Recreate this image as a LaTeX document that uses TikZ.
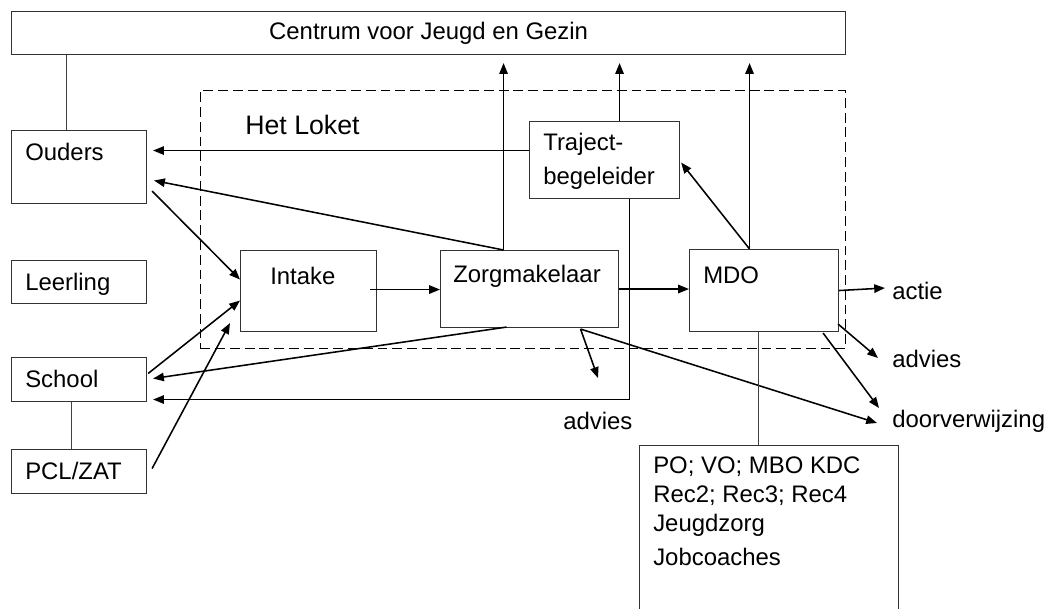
\documentclass[tikz,border=0pt]{standalone}
\usepackage{fontspec}
\setmainfont{Liberation Sans}
\usetikzlibrary{arrows.meta}

\tikzset{
  box/.style={draw=black!80, line width=0.75pt, inner sep=0pt, anchor=north west},
  txt/.style={inner sep=0pt, anchor=north west, align=left},
  arr/.style={-{Triangle[length=0.27cm,width=0.21cm]}, line width=1.1pt},
  lnk/.style={draw=black!75, line width=0.75pt}
}

\begin{document}
\begin{tikzpicture}[x=0.025cm, y=-0.025cm, font=\fontsize{17}{20.5}\selectfont]
\useasboundingbox (0,0) rectangle (1050,609);
% boxes
\node[box, minimum width=20.85cm, minimum height=1.075cm] (cjg) at (11,11) {Centrum voor Jeugd en Gezin};
\node[box, draw=black, line width=0.6pt, dash pattern=on 7pt off 3.5pt,
  minimum width=16.125cm, minimum height=6.45cm] (loket) at (200,90) {};
\node[txt, font=\fontsize{19}{23}\selectfont] (loketname) at ([shift={(45,25)}]loket.north west) {Het Loket};

\node[box, minimum width=3.375cm, minimum height=1.825cm,
  label={[txt, xshift=0.35cm, yshift=-0.325cm]north west:Ouders}] (ouders) at (11,130) {};
\node[box, minimum width=3.375cm, minimum height=1.075cm,
  label={[txt, xshift=0.35cm, yshift=-0.325cm]north west:Leerling}] (leerling) at (11,260) {};
\node[box, minimum width=3.375cm, minimum height=1.1cm,
  label={[txt, xshift=0.35cm, yshift=-0.325cm]north west:School}] (school) at (11,357) {};
\node[box, minimum width=3.375cm, minimum height=1.1cm,
  label={[txt, xshift=0.35cm, yshift=-0.325cm]north west:PCL/ZAT}] (pcl) at (11,449) {};

\node[box, minimum width=3.4cm, minimum height=2.025cm,
  label={[txt, xshift=0.75cm, yshift=-0.425cm]north west:Intake}] (intake) at (240,250) {};
\node[box, minimum width=4.45cm, minimum height=1.925cm,
  label={[txt, xshift=0.325cm, yshift=-0.375cm]north west:Zorgmakelaar}] (zorg) at (440,250) {};
\node[box, minimum width=3.725cm, minimum height=2.05cm,
  label={[txt, xshift=0.35cm, yshift=-0.45cm]north west:MDO}] (mdo) at (689,249) {};
\node[box, minimum width=3.75cm, minimum height=1.925cm,
  label={[txt, xshift=0.35cm, yshift=-0.3cm]north west:{Traject-\\[3.6pt]begeleider}}] (traject) at (529,121) {};
\node[box, minimum width=6.475cm, minimum height=4.5cm,
  label={[txt, xshift=0.35cm, yshift=-0.3cm]north west:{PO; VO; MBO KDC\\Rec2; Rec3; Rec4\\Jeugdzorg\\[3.5pt]Jobcoaches}}] (pool) at (639,445) {};

% uitkomsten
\node[txt, anchor=base west] (actie) at (892,300) {actie};
\node[txt, anchor=base west] (advies) at (892,367) {advies};
\node[txt, anchor=base west] (door) at (892,427) {doorverwijzing};
\node[txt, anchor=base west] (advice) at (563,429) {advies};

% connectors
\draw[lnk] ([shift={(-12.5,0)}]ouders.north) coordinate (o1) -- (o1 |- cjg.south);
\foreach \n/\dx in {zorg/-26, traject/15, mdo/-14.5}
  \draw[arr, shorten >=0.2cm] ([shift={(\dx,0)}]\n.north) coordinate (up\n) -- (up\n |- cjg.south);
\draw[arr, shorten >=0.15cm] ([shift={(0,-9.5)}]traject.west) coordinate (t1) -- (t1 -| ouders.east);
\draw[arr] (upzorg) -- ([shift={(7,13.5)}]ouders.east);
\draw[arr] ([shift={(5,-13)}]ouders.south east) -- ([shift={(0,-11.5)}]intake.west);
\draw[arr] ([shift={(1,-6)}]school.east) -- ([shift={(0,9.5)}]intake.west);
\draw[arr] ([shift={(5,-3)}]pcl.east) -- ([shift={(-10,-9)}]intake.south west);
\draw[arr] ([shift={(-23,-1)}]zorg.south) -- ([shift={(6,-1)}]school.east);
\draw[arr] ([shift={(25,0)}]traject.south) |- ([shift={(6,20)}]school.east);
\draw[arr] ([shift={(-7,-1.5)}]intake.east) coordinate (i1) -- (i1 -| zorg.west);
\draw[arr] (zorg.east) -- (zorg.east -| mdo.west);
\draw[arr] (upmdo) -- ([shift={(1,2.5)}]traject.east);
\draw[arr] (mdo.east) -- ([shift={(-7,-12)}]actie.base west);
\draw[arr] ([shift={(-1,-8)}]mdo.south east) -- ([shift={(-14,-9)}]advies.base west);
\draw[arr] ([shift={(-16,1)}]mdo.south east) -- ([shift={(-13,-19)}]door.base west);
\draw[arr] ([shift={(51,1)}]zorg.south) coordinate (z2) -- ([shift={(-15,-4)}]door.base west);
\draw[arr] (z2) -- ([shift={(35,-51)}]advice.base west);
\draw[lnk] ([shift={(-5.5,0)}]mdo.south) coordinate (m1) -- (m1 |- pool.north);
\draw[lnk] ([shift={(-7.5,0)}]school.south) coordinate (s1) -- (s1 |- pcl.north);
\end{tikzpicture}
\end{document}
